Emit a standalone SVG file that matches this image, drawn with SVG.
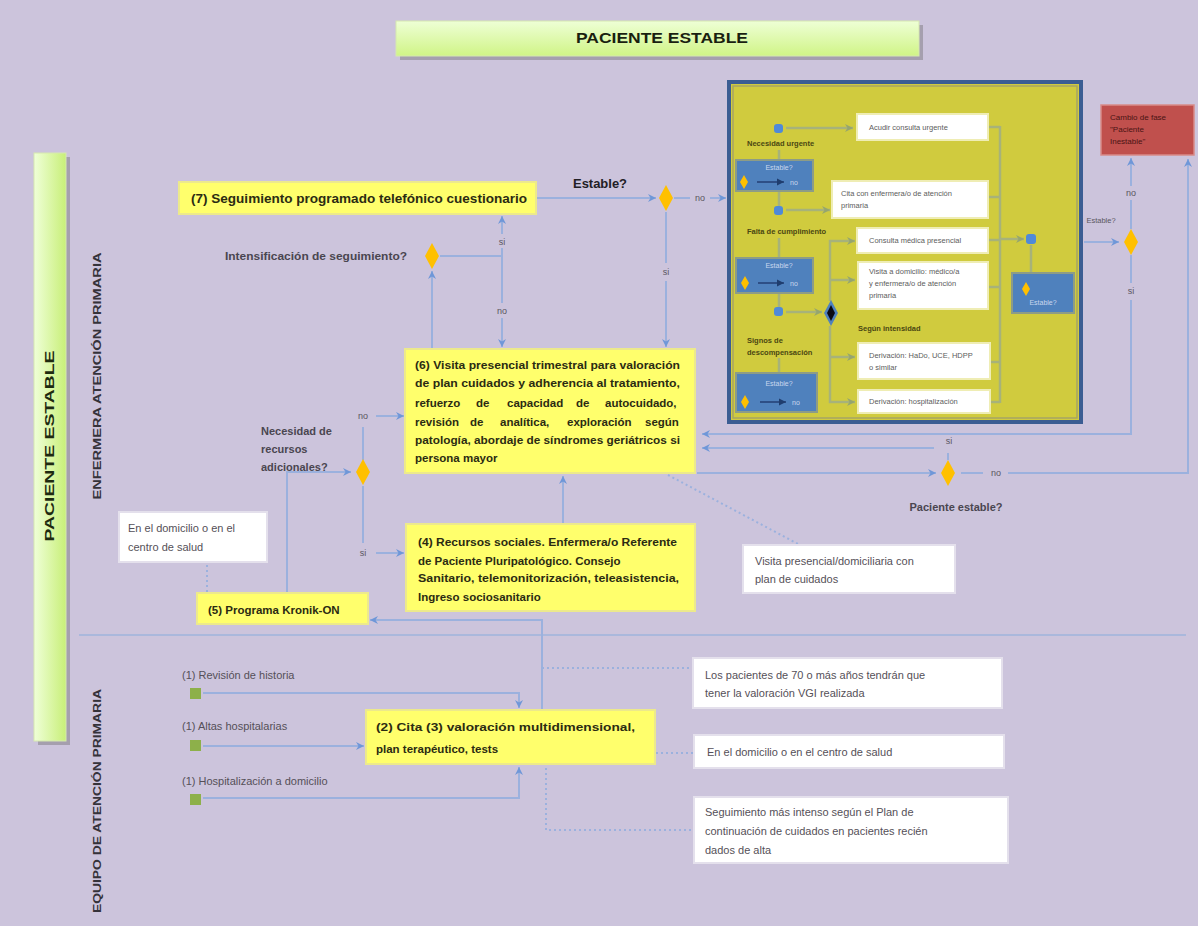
<svg xmlns="http://www.w3.org/2000/svg" width="1198" height="926" viewBox="0 0 1198 926">
  <style>
    .c{fill:none;stroke:#9bb1de;stroke-width:2}
    .cp{fill:none;stroke:#a7b27a;stroke-width:2.5}
    .dt{fill:none;stroke:#9bb1de;stroke-width:2;stroke-dasharray:2 3}
    .yb{fill:#ffff6c;stroke:#ece98c;stroke-width:2}
    .wb{fill:#ffffff;stroke:#e4e0ec;stroke-width:2}
    .pw{fill:#ffffff;stroke:#efedb4;stroke-width:2}
    .bb{fill:#4f81bd;stroke:#8d9c86;stroke-width:2}
    .dia{fill:#ffc000}
    .bd{fill:#4f8ad8}
    text{font-family:"Liberation Sans",Arial,sans-serif}
    .yt{font-size:11.5px;font-weight:bold;fill:#2b2b12}
    .lb{font-size:11px;font-weight:bold;fill:#4a4650}
    .nt{font-size:11px;fill:#555058}
    .sm{font-size:9px;fill:#5a5660;text-anchor:middle}
    .pt{font-size:7.5px;fill:#5c5c5c}
    .pl{font-size:7.5px;font-weight:bold;fill:#4a4712}
    .bt{font-size:7px;fill:#c9d7ee}
    .vt{font-size:10px;font-weight:bold;fill:#35323a;text-anchor:middle}
  </style>
  <defs>
    <marker id="arr" markerWidth="9" markerHeight="9" refX="8" refY="4.5" orient="auto" markerUnits="userSpaceOnUse">
      <path d="M0,0.5 L8,4.5 L0,8.5 L2.5,4.5 z" fill="#6f97d8"/>
    </marker>
    <marker id="arrp" markerWidth="9" markerHeight="9" refX="8" refY="4.5" orient="auto" markerUnits="userSpaceOnUse">
      <path d="M0,0.5 L8,4.5 L0,8.5 L2.5,4.5 z" fill="#95a56f"/>
    </marker>
    <marker id="arrb" markerWidth="8" markerHeight="8" refX="7" refY="4" orient="auto" markerUnits="userSpaceOnUse">
      <path d="M0,0.5 L7,4 L0,7.5 z" fill="#1f3d6e"/>
    </marker>
    <linearGradient id="gTitle" x1="0" y1="0" x2="0" y2="1">
      <stop offset="0" stop-color="#eeffd6"/>
      <stop offset="1" stop-color="#d0f486"/>
    </linearGradient>
    <linearGradient id="gBar" x1="0" y1="0" x2="1" y2="0">
      <stop offset="0" stop-color="#efffd8"/>
      <stop offset="1" stop-color="#c8ef78"/>
    </linearGradient>
    <path id="diamond" d="M0,-13 L7,0 L0,13 L-7,0 z"/>
    <path id="mini" d="M0,-7 L4,0 L0,7 L-4,0 z"/>
  </defs>

  <!-- background -->
  <rect x="0" y="0" width="1198" height="926" fill="#ccc4dc"/>

  <!-- title banner -->
  <g id="title">
    <rect x="400" y="25" width="523" height="35" fill="#a59fae"/>
    <rect x="396" y="21" width="523" height="35" fill="url(#gTitle)" stroke="#d6e8b0" stroke-width="1"/>
    <text x="662" y="43" font-size="14" font-weight="bold" fill="#1a1f10" text-anchor="middle" textLength="172" lengthAdjust="spacingAndGlyphs">PACIENTE ESTABLE</text>
  </g>

  <!-- left phase bar -->
  <g id="phase-bar">
    <rect x="38" y="157" width="32" height="588" fill="#a59fae"/>
    <rect x="34" y="153" width="32" height="588" fill="url(#gBar)" stroke="#d6e8b0" stroke-width="1"/>
    <text transform="translate(54,446) rotate(-90)" font-size="12" font-weight="bold" fill="#1e2a10" text-anchor="middle" textLength="191" lengthAdjust="spacingAndGlyphs">PACIENTE ESTABLE</text>
  </g>

  <!-- role labels -->
  <g id="roles">
    <text class="vt" transform="translate(101,376) rotate(-90)" textLength="247" lengthAdjust="spacingAndGlyphs">ENFERMERA ATENCIÓN PRIMARIA</text>
    <text class="vt" transform="translate(101,801) rotate(-90)" textLength="224" lengthAdjust="spacingAndGlyphs">EQUIPO DE ATENCIÓN PRIMARIA</text>
    <line x1="79" y1="635" x2="1186" y2="635" stroke="#aab8dc" stroke-width="2"/>
  </g>

  <!-- connectors -->
  <g id="connectors">
    <!-- upper lane -->
    <path class="c" d="M536,198 H656" marker-end="url(#arr)"/>
    <path class="c" d="M674,198 H690"/>
    <path class="c" d="M710,198 H726" marker-end="url(#arr)"/>
    <path class="c" d="M666,212 V263"/>
    <path class="c" d="M666,281 V347" marker-end="url(#arr)"/>
    <path class="c" d="M440,256 H502 V248"/>
    <path class="c" d="M502,234 V216" marker-end="url(#arr)"/>
    <path class="c" d="M502,256 V303"/>
    <path class="c" d="M502,318 V347" marker-end="url(#arr)"/>
    <path class="c" d="M432,348 V271" marker-end="url(#arr)"/>
    <path class="c" d="M287,592 V472 H351" marker-end="url(#arr)"/>
    <path class="c" d="M363,460 V427"/>
    <path class="c" d="M376,416 H404" marker-end="url(#arr)"/>
    <path class="c" d="M363,486 V543"/>
    <path class="c" d="M376,553 H404" marker-end="url(#arr)"/>
    <path class="c" d="M563,523 V476" marker-end="url(#arr)"/>
    <path class="c" d="M542,710 V620 H370" marker-end="url(#arr)"/>
    <path class="c" d="M697,473 H936" marker-end="url(#arr)"/>
    <path class="c" d="M961,473 H983"/>
    <path class="c" d="M1008,473 H1188 V159" marker-end="url(#arr)"/>
    <path class="c" d="M948,460 V453"/>
    <path class="c" d="M934,448 H702" marker-end="url(#arr)"/>
    <path class="c" d="M1084,242 H1119" marker-end="url(#arr)"/>
    <path class="c" d="M1131,229 V200"/>
    <path class="c" d="M1131,186 V158" marker-end="url(#arr)"/>
    <path class="c" d="M1131,255 V283"/>
    <path class="c" d="M1131,300 V434 H702" marker-end="url(#arr)"/>
    <!-- lower lane -->
    <path class="c" d="M203,693 H519 V708" marker-end="url(#arr)"/>
    <path class="c" d="M203,746 H364" marker-end="url(#arr)"/>
    <path class="c" d="M203,798 H519 V767" marker-end="url(#arr)"/>
    <!-- annotation links -->
    <path class="dt" d="M207,565 V592"/>
    <path class="dt" d="M668,475 L800,545"/>
    <path class="dt" d="M542,668 H692"/>
    <path class="dt" d="M656,753 H693"/>
    <path class="dt" d="M546,768 V830 H693"/>
  </g>

  <!-- connector labels -->
  <g id="connector-labels">
    <text x="600" y="188" font-size="12" font-weight="bold" fill="#222026" text-anchor="middle" textLength="54" lengthAdjust="spacingAndGlyphs">Estable?</text>
    <text class="sm" x="700" y="201">no</text>
    <text class="sm" x="666" y="275">si</text>
    <text class="sm" x="502" y="245">si</text>
    <text class="sm" x="502" y="314">no</text>
    <text class="sm" x="363" y="419">no</text>
    <text class="sm" x="363" y="556">si</text>
    <text class="sm" x="996" y="476">no</text>
    <text class="sm" x="949" y="444">si</text>
    <text class="sm" x="1131" y="196">no</text>
    <text class="sm" x="1131" y="294">si</text>
    <text x="1101" y="223" font-size="7.5" fill="#5a5660" text-anchor="middle">Estable?</text>
    <text class="lb" x="225" y="260" textLength="182" lengthAdjust="spacingAndGlyphs">Intensificación de seguimiento?</text>
    <text class="lb" x="261" y="435">Necesidad de</text>
    <text class="lb" x="261" y="453">recursos</text>
    <text class="lb" x="261" y="471">adicionales?</text>
    <text class="lb" x="956" y="511" font-size="10" text-anchor="middle">Paciente estable?</text>
  </g>

  <!-- decisions -->
  <g id="decisions">
    <use href="#diamond" x="666" y="198" class="dia"/>
    <use href="#diamond" x="432" y="256" class="dia"/>
    <use href="#diamond" x="363" y="472" class="dia"/>
    <use href="#diamond" x="948" y="473" class="dia"/>
    <use href="#diamond" x="1131" y="242" class="dia"/>
  </g>

  <!-- upper lane nodes -->
  <g id="n7">
    <rect class="yb" x="179" y="182" width="357" height="32"/>
    <text x="191" y="203" font-size="13" font-weight="bold" fill="#2b2b12" textLength="336" lengthAdjust="spacingAndGlyphs">(7) Seguimiento programado telefónico cuestionario</text>
  </g>
  <g id="n6">
    <rect class="yb" x="405" y="349" width="290" height="124"/>
    <text class="yt" x="415" y="369" textLength="265" lengthAdjust="spacingAndGlyphs">(6) Visita presencial trimestral para valoración</text>
    <text class="yt" x="415" y="387" textLength="265" lengthAdjust="spacingAndGlyphs">de plan cuidados y adherencia al tratamiento,</text>
    <text class="yt" y="407"><tspan x="415">refuerzo</tspan><tspan x="476">de</tspan><tspan x="507">capacidad</tspan><tspan x="576">de</tspan><tspan x="605">autocuidado,</tspan></text>
    <text class="yt" y="426"><tspan x="415">revisión</tspan><tspan x="470">de</tspan><tspan x="500">analítica,</tspan><tspan x="567">exploración</tspan><tspan x="645">según</tspan></text>
    <text class="yt" x="415" y="444" textLength="265" lengthAdjust="spacingAndGlyphs">patología, abordaje de síndromes geriátricos si</text>
    <text class="yt" x="415" y="462">persona mayor</text>
  </g>
  <g id="n4">
    <rect class="yb" x="406" y="524" width="289" height="87"/>
    <text class="yt" x="418" y="546" textLength="259" lengthAdjust="spacingAndGlyphs">(4) Recursos sociales. Enfermera/o Referente</text>
    <text class="yt" x="418" y="565">de Paciente Pluripatológico. Consejo</text>
    <text class="yt" x="418" y="582" textLength="261" lengthAdjust="spacingAndGlyphs">Sanitario, telemonitorización, teleasistencia,</text>
    <text class="yt" x="418" y="601">Ingreso sociosanitario</text>
  </g>
  <g id="n-lugar">
    <rect class="wb" x="119" y="512" width="148" height="50"/>
    <text class="nt" x="128" y="532">En el domicilio o en el</text>
    <text class="nt" x="128" y="551">centro de salud</text>
  </g>
  <g id="n5">
    <rect class="yb" x="197" y="593" width="171" height="31"/>
    <text class="yt" x="208" y="614" font-size="11">(5) Programa Kronik-ON</text>
  </g>
  <g id="n-visita">
    <rect class="wb" x="743" y="545" width="212" height="48"/>
    <text class="nt" x="755" y="565">Visita presencial/domiciliaria con</text>
    <text class="nt" x="755" y="583">plan de cuidados</text>
  </g>
  <g id="n-inestable">
    <rect x="1101" y="105" width="93" height="50" fill="#c0504d" stroke="#d88a88" stroke-width="1.5"/>
    <text x="1110" y="120" font-size="8" fill="#4a1414">Cambio de fase</text>
    <text x="1110" y="132" font-size="8" fill="#4a1414">"Paciente</text>
    <text x="1110" y="144" font-size="8" fill="#4a1414">Inestable"</text>
  </g>

  <!-- response panel -->
  <g id="panel">
    <rect x="729" y="82" width="352" height="340" fill="#d0cb3e" stroke="#3b5d93" stroke-width="4"/>
    <rect x="733" y="86" width="344" height="332" fill="none" stroke="#a6a564" stroke-width="1.5"/>
    <!-- panel links -->
    <path class="cp" d="M786,128 H853" marker-end="url(#arrp)"/>
    <path class="cp" d="M779,150 V160"/>
    <path class="cp" d="M779,191 V206"/>
    <path class="cp" d="M786,210 H830" marker-end="url(#arrp)"/>
    <path class="cp" d="M779,238 V258"/>
    <path class="cp" d="M779,293 V307"/>
    <path class="cp" d="M786,312 H822" marker-end="url(#arrp)"/>
    <path class="cp" d="M779,358 V373"/>
    <path class="cp" d="M830,301 V241 H855" marker-end="url(#arrp)"/>
    <path class="cp" d="M830,280 H855" marker-end="url(#arrp)"/>
    <path class="cp" d="M830,326 V402 H855" marker-end="url(#arrp)"/>
    <path class="cp" d="M830,357 H855" marker-end="url(#arrp)"/>
    <path class="cp" d="M988,127 H1000 M988,197 H1000 M988,240 H1000 M988,287 H1000 M990,362 H1000 M990,402 H1000 M1000,126 V403"/>
    <path class="cp" d="M1000,239 H1024" marker-end="url(#arrp)"/>
    <path class="cp" d="M1031,245 V273"/>
    <!-- panel nodes -->
    <g id="p-urgente">
      <rect class="bd" x="774" y="124" width="9" height="9" rx="3"/>
      <text class="pl" x="747" y="146">Necesidad urgente</text>
      <rect class="pw" x="857" y="114" width="131" height="26"/>
      <text class="pt" x="869" y="130">Acudir consulta urgente</text>
    </g>
    <g id="p-estable-1">
      <rect class="bb" x="736" y="160" width="77" height="31"/>
      <text class="bt" x="779" y="170" text-anchor="middle">Estable?</text>
      <use href="#mini" x="744" y="182" class="dia"/>
      <path d="M757,182 H784" stroke="#2e4f86" stroke-width="2" marker-end="url(#arrb)"/>
      <text class="bt" x="790" y="185">no</text>
    </g>
    <g id="p-cumplimiento">
      <rect class="bd" x="774" y="206" width="9" height="9" rx="3"/>
      <rect class="pw" x="832" y="181" width="156" height="37"/>
      <text class="pt" x="841" y="196">Cita con enfermera/o de atención</text>
      <text class="pt" x="841" y="208">primaria</text>
      <text class="pl" x="747" y="234">Falta de cumplimiento</text>
    </g>
    <g id="p-estable-2">
      <rect class="bb" x="736" y="258" width="77" height="35"/>
      <text class="bt" x="779" y="268" text-anchor="middle">Estable?</text>
      <use href="#mini" x="745" y="283" class="dia"/>
      <path d="M758,283 H784" stroke="#2e4f86" stroke-width="2" marker-end="url(#arrb)"/>
      <text class="bt" x="790" y="286">no</text>
    </g>
    <g id="p-descompensacion">
      <rect class="bd" x="774" y="307" width="9" height="9" rx="3"/>
      <use href="#diamond" x="831" y="313" fill="#4f81bd"/>
      <path d="M831,305 L835,313 L831,321 L827,313 z" fill="#0b0b14"/>
      <text class="pl" x="747" y="343">Signos de</text>
      <text class="pl" x="747" y="355">descompensación</text>
      <text class="pl" x="858" y="331">Según intensidad</text>
    </g>
    <g id="p-consulta">
      <rect class="pw" x="857" y="228" width="131" height="25"/>
      <text class="pt" x="869" y="243">Consulta médica presencial</text>
    </g>
    <g id="p-domicilio">
      <rect class="pw" x="858" y="262" width="130" height="47"/>
      <text class="pt" x="869" y="274">Visita a domicilio: médico/a</text>
      <text class="pt" x="869" y="286">y enfermera/o de atención</text>
      <text class="pt" x="869" y="298">primaria</text>
    </g>
    <g id="p-derivacion-1">
      <rect class="pw" x="858" y="343" width="132" height="36"/>
      <text class="pt" x="869" y="358">Derivación: HaDo, UCE, HDPP</text>
      <text class="pt" x="869" y="370">o similar</text>
    </g>
    <g id="p-estable-3">
      <rect class="bb" x="736" y="373" width="81" height="39"/>
      <text class="bt" x="779" y="386" text-anchor="middle">Estable?</text>
      <use href="#mini" x="745" y="402" class="dia"/>
      <path d="M760,402 H786" stroke="#2e4f86" stroke-width="2" marker-end="url(#arrb)"/>
      <text class="bt" x="792" y="405">no</text>
    </g>
    <g id="p-derivacion-2">
      <rect class="pw" x="858" y="390" width="132" height="23"/>
      <text class="pt" x="869" y="404">Derivación: hospitalización</text>
    </g>
    <g id="p-estable-final">
      <rect class="bd" x="1026" y="234" width="10" height="10" rx="3"/>
      <rect class="bb" x="1012" y="273" width="62" height="40"/>
      <use href="#mini" x="1026" y="289" class="dia"/>
      <text class="bt" x="1043" y="305" text-anchor="middle">Estable?</text>
    </g>
  </g>

  <!-- lower lane nodes -->
  <g id="n1-historia">
    <rect x="190" y="688" width="11" height="11" fill="#8db04a"/>
    <text class="nt" x="182" y="679">(1) Revisión de historia</text>
  </g>
  <g id="n1-altas">
    <rect x="190" y="740" width="11" height="11" fill="#8db04a"/>
    <text class="nt" x="182" y="730">(1) Altas hospitalarias</text>
  </g>
  <g id="n1-hado">
    <rect x="190" y="794" width="11" height="11" fill="#8db04a"/>
    <text class="nt" x="182" y="785">(1) Hospitalización a domicilio</text>
  </g>
  <g id="n2">
    <rect class="yb" x="366" y="710" width="289" height="54"/>
    <text class="yt" x="376" y="731" font-size="12.5" textLength="259" lengthAdjust="spacingAndGlyphs">(2) Cita (3) valoración multidimensional,</text>
    <text class="yt" x="376" y="753" font-size="12.5">plan terapéutico, tests</text>
  </g>
  <g id="note-70">
    <rect class="wb" x="693" y="658" width="309" height="50"/>
    <text class="nt" x="705" y="679">Los pacientes de 70 o más años tendrán que</text>
    <text class="nt" x="705" y="697">tener la valoración VGI realizada</text>
  </g>
  <g id="note-lugar">
    <rect class="wb" x="694" y="735" width="310" height="33"/>
    <text class="nt" x="707" y="756">En el domicilio o en el centro de salud</text>
  </g>
  <g id="note-altas">
    <rect class="wb" x="694" y="797" width="314" height="66"/>
    <text class="nt" x="705" y="816">Seguimiento más intenso según el Plan de</text>
    <text class="nt" x="705" y="835">continuación de cuidados en pacientes recién</text>
    <text class="nt" x="705" y="854">dados de alta</text>
  </g>
</svg>
